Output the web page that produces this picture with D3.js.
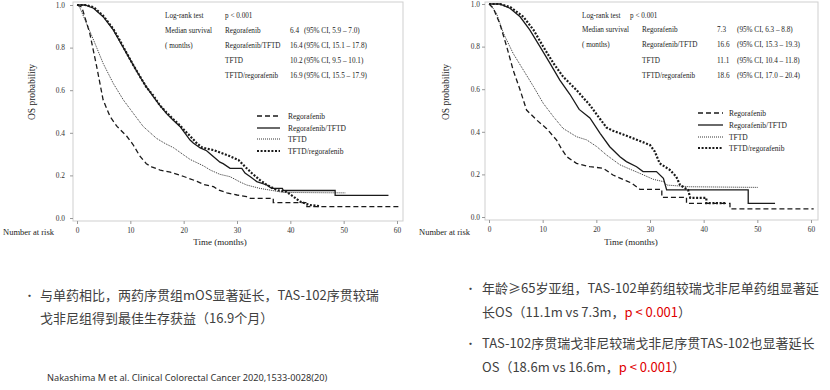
<!DOCTYPE html>
<html><head><meta charset="utf-8">
<script src="https://cdn.jsdelivr.net/npm/d3@7"></script>
<style>body{margin:0;background:#fff}svg{display:block}</style>
</head><body><svg id="c" width="830" height="390"></svg>
<script>
// ---------- data ----------
const seriesNames = ["Regorafenib", "Regorafenib/TFTD", "TFTD", "TFTD/regorafenib"];
const xTicks = [0, 10, 20, 30, 40, 50, 60];
const yTicks = [0, 0.2, 0.4, 0.6, 0.8, 1.0];

// left panel (all patients) – [months, OS probability]
const leftRegorafenib = [[0,1],[0.9,0.99],[2.4,0.867],[3.7,0.71],[4.9,0.554],[6.2,0.476],[7.5,0.43],[9.3,0.385],[10.5,0.345],[11.8,0.29],[13,0.255],[14,0.24],[15.6,0.225],[17.5,0.215],[19.9,0.196],[22.5,0.172],[23.7,0.158],[25.6,0.147],[26.5,0.132],[28.1,0.118],[30,0.108],[31.8,0.1],[32.5,0.092],[36.8,0.092],[36.8,0.072],[43.1,0.072],[43.1,0.053],[60.3,0.053]];
const leftRegTFTD = [[0,1],[1.5,1],[3.1,0.985],[4.9,0.945],[6.8,0.883],[8,0.83],[9.3,0.773],[10.5,0.72],[11.8,0.663],[13,0.615],[14.3,0.57],[15.5,0.53],[16.8,0.49],[18,0.46],[19.3,0.43],[20.2,0.4],[21.2,0.366],[21.8,0.352],[23.1,0.329],[24.3,0.316],[25.5,0.29],[26.8,0.262],[27.4,0.255],[28.7,0.233],[30.9,0.233],[31.5,0.211],[32.5,0.194],[33.7,0.171],[35.6,0.155],[36.5,0.139],[38.5,0.139],[38.7,0.129],[48.4,0.129],[48.4,0.106],[58.4,0.106]];
const leftTFTD = [[0,1],[0.5,0.99],[1.5,0.93],[3.1,0.836],[4.9,0.726],[6.8,0.632],[8.7,0.554],[10.6,0.49],[12.4,0.43],[14.9,0.374],[16.5,0.35],[18.1,0.33],[19.5,0.305],[21.2,0.275],[23.7,0.245],[25,0.225],[26.8,0.205],[28.7,0.194],[30.5,0.17],[31.8,0.155],[34.3,0.139],[36.2,0.131],[38.7,0.12],[50.3,0.118]];
const leftTFTDReg = [[0,1],[1.5,1],[3.1,0.99],[4.9,0.95],[6.8,0.888],[8,0.835],[9.3,0.775],[10.5,0.72],[11.8,0.665],[13,0.615],[14.3,0.575],[15.5,0.53],[16.8,0.495],[18,0.465],[19.3,0.435],[20.2,0.41],[21.2,0.385],[22.5,0.35],[23.5,0.33],[25.6,0.319],[28.1,0.296],[30.3,0.272],[31.5,0.241],[32.8,0.21],[34.3,0.178],[35.6,0.155],[37.5,0.131],[39.3,0.123],[40.6,0.1],[41.8,0.077],[43.7,0.061],[45.6,0.055]];
const leftMedians = ["6.4", "16.4", "10.2", "16.9"];
const leftCIs = ["(95% CI, 5.9 – 7.0)", "(95% CI, 15.1 – 17.8)", "(95% CI, 9.5 – 10.1)", "(95% CI, 15.5 – 17.9)"];

// right panel (age >= 65)
const rightRegorafenib = [[0,1],[0.8,0.98],[2,0.909],[3.3,0.8],[4.5,0.69],[5.8,0.596],[7,0.502],[8.9,0.455],[10.7,0.416],[12.6,0.361],[13.5,0.32],[14.5,0.283],[16.3,0.252],[18.8,0.236],[21.3,0.229],[23.1,0.197],[25.6,0.17],[26.5,0.16],[28.1,0.13],[32.2,0.13],[32.2,0.092],[36.8,0.092],[36.8,0.064],[44.9,0.064],[44.9,0.038],[60.5,0.038]];
const rightRegTFTD = [[0,1],[2,1],[3.9,0.98],[5.8,0.94],[7.6,0.878],[9.5,0.8],[11.4,0.72],[13.2,0.643],[15.1,0.575],[16.8,0.505],[18.8,0.465],[20.7,0.393],[22.5,0.33],[24.4,0.283],[25.6,0.26],[27.5,0.236],[28.7,0.213],[31.2,0.213],[32.5,0.182],[33.1,0.127],[48.3,0.127],[48.3,0.064],[53.3,0.064]];
const rightTFTD = [[0,1],[0.5,0.99],[1.4,0.956],[2.7,0.862],[4.5,0.768],[6.4,0.69],[8.3,0.612],[10.1,0.534],[12,0.471],[13.8,0.416],[16.3,0.377],[18.2,0.362],[20.1,0.33],[21.9,0.291],[24.4,0.245],[26.5,0.222],[28.1,0.205],[30.6,0.177],[32.5,0.166],[33.1,0.15],[37.4,0.142],[50.1,0.139]];
const rightTFTDReg = [[0,1],[2,1],[4,0.985],[6.4,0.94],[8.3,0.878],[10.1,0.8],[12,0.722],[13.8,0.659],[16.3,0.596],[18.8,0.525],[20.7,0.46],[21.9,0.42],[23.1,0.405],[24.4,0.393],[26.9,0.369],[30,0.338],[30.9,0.307],[31.8,0.252],[33.7,0.221],[34.9,0.189],[35.6,0.15],[37.1,0.127],[37.5,0.09],[40.5,0.09],[40.5,0.065],[44,0.065]];
const rightMedians = ["7.3", "16.6", "11.1", "18.6"];
const rightCIs = ["(95% CI, 6.3 – 8.8)", "(95% CI, 15.3 – 19.3)", "(95% CI, 10.4 – 11.8)", "(95% CI, 17.0 – 20.4)"];

const leftNote = ["与单药相比，两药序贯组mOS显著延长，TAS-102序贯较瑞", "戈非尼组得到最佳生存获益（16.9个月）"];
const citation = "Nakashima M et al. Clinical Colorectal Cancer 2020,1533-0028(20)";

// ---------- styles ----------
const lineStyles = [
  {dash: "5,3", w: 1.3, c: "#1a1a1a"},
  {dash: null, w: 1.3, c: "#1a1a1a"},
  {dash: "1,1", w: 1, c: "#333"},
  {dash: "2,1.6", w: 2.2, c: "#1a1a1a"}
];
const drawOrder = [2, 0, 1, 3];
const serif = "'Liberation Serif', 'Times New Roman', serif";
const cjk = "'Noto Sans CJK SC', 'Noto Sans', sans-serif";

const svg = d3.select("#c");

const panels = [
  {curves: [leftRegorafenib, leftRegTFTD, leftTFTD, leftTFTDReg], medians: leftMedians, cis: leftCIs,
   frame: {x0: 73, x1: 403, y0: 2, y1: 221}, xr: [77, 397], yr: [218, 5], ylabPad: 5,
   tbl: {c1: 165, p: 225, c2: 225, c3: 290, c4: 304, rows: [15, 30, 45, 60, 75]},
   leg: {x0: 257, x1: 280, tx: 288, rows: [116, 128, 139, 151]},
   ylab: {x: 32, y: 92}, nar: 3, time: 220},
  {curves: [rightRegorafenib, rightRegTFTD, rightTFTD, rightTFTDReg], medians: rightMedians, cis: rightCIs,
   frame: {x0: 485, x1: 818, y0: 2, y1: 220}, xr: [489, 811], yr: [217, 4], ylabPad: 2,
   tbl: {c1: 582, p: 630, c2: 642, c3: 717, c4: 737, rows: [15, 29, 44, 60, 75]},
   leg: {x0: 698, x1: 723, tx: 729, rows: [113, 125, 137, 148]},
   ylab: {x: 446, y: 92}, nar: 419, time: 631}
];

panels.forEach(P => {
  const g = svg.append("g");
  const x = d3.scaleLinear().domain([0, 60]).range(P.xr);
  const y = d3.scaleLinear().domain([0, 1]).range(P.yr);
  const f = P.frame;
  g.append("rect").attr("x", f.x0).attr("y", f.y0).attr("width", f.x1 - f.x0).attr("height", f.y1 - f.y0)
    .attr("fill", "none").attr("stroke", "#cfcfcf").attr("stroke-width", 1);

  const ya = g.append("g").attr("transform", `translate(${f.x0},0)`)
    .call(d3.axisLeft(y).tickValues(yTicks).tickFormat(d3.format(".1f")).tickSize(3).tickPadding(P.ylabPad));
  const xa = g.append("g").attr("transform", `translate(0,${f.y1})`)
    .call(d3.axisBottom(x).tickValues(xTicks).tickSize(3).tickPadding(4));
  [ya, xa].forEach(a => {
    a.select(".domain").remove();
    a.selectAll("line").attr("stroke", "#999");
    a.selectAll("text").attr("font-family", serif).attr("font-size", 7.4).attr("fill", "#333");
  });

  const line = d3.line().x(d => x(d[0])).y(d => y(d[1]));
  drawOrder.forEach(i => {
    const s = lineStyles[i];
    g.append("path").datum(P.curves[i]).attr("d", line).attr("fill", "none")
      .attr("stroke", s.c).attr("stroke-width", s.w).attr("stroke-dasharray", s.dash);
  });

  // table
  const T = P.tbl;
  const txt = (tx, ty, s, fs) => g.append("text").attr("x", tx).attr("y", ty + 3)
    .attr("font-family", serif).attr("font-size", fs || 7.2).attr("fill", "#222").text(s);
  txt(T.c1, T.rows[0], "Log-rank test");
  txt(T.p, T.rows[0], "p < 0.001");
  txt(T.c1, T.rows[1], "Median survival");
  txt(T.c1, T.rows[2], "( months)");
  seriesNames.forEach((n, i) => {
    txt(T.c2, T.rows[i + 1], n);
    txt(T.c3, T.rows[i + 1], P.medians[i]);
    txt(T.c4, T.rows[i + 1], P.cis[i]);
  });

  // legend
  const L = P.leg;
  seriesNames.forEach((n, i) => {
    const s = lineStyles[i];
    g.append("line").attr("x1", L.x0).attr("x2", L.x1).attr("y1", L.rows[i]).attr("y2", L.rows[i])
      .attr("stroke", s.c).attr("stroke-width", s.w).attr("stroke-dasharray", s.dash);
    txt(L.tx, L.rows[i], n, 7.5);
  });

  g.append("text").attr("transform", `translate(${P.ylab.x},${P.ylab.y}) rotate(-90)`)
    .attr("text-anchor", "middle").attr("dy", "0.35em").attr("font-family", serif)
    .attr("font-size", 9.5).attr("fill", "#222").text("OS probability");
  g.append("text").attr("x", P.nar).attr("y", 235).attr("font-family", serif)
    .attr("font-size", 8.5).attr("fill", "#222").text("Number at risk");
  g.append("text").attr("x", P.time).attr("y", 245).attr("text-anchor", "middle").attr("font-family", serif)
    .attr("font-size", 9).attr("fill", "#222").text("Time (months)");
});

// ---------- notes ----------
const noteG = svg.append("g").attr("font-family", cjk).attr("font-size", 13).attr("fill", "#404040");
const bullet = (bx, by) => noteG.append("text").attr("x", bx).attr("y", by).attr("font-size", 11).text("•");
bullet(24, 300);
noteG.append("text").attr("x", 40).attr("y", 300).text(leftNote[0]);
noteG.append("text").attr("x", 40).attr("y", 323).text(leftNote[1]);

bullet(465, 293);
noteG.append("text").attr("x", 482).attr("y", 293).text("年龄≥65岁亚组，TAS-102单药组较瑞戈非尼单药组显著延");
const r2 = noteG.append("text").attr("x", 482).attr("y", 317);
r2.append("tspan").text("长OS（11.1m vs 7.3m，");
r2.append("tspan").attr("fill", "#e00000").text("p < 0.001");
r2.append("tspan").text("）");
bullet(465, 348);
noteG.append("text").attr("x", 482).attr("y", 348).text("TAS-102序贯瑞戈非尼较瑞戈非尼序贯TAS-102也显著延长");
const r4 = noteG.append("text").attr("x", 482).attr("y", 372);
r4.append("tspan").text("OS（18.6m vs 16.6m，");
r4.append("tspan").attr("fill", "#e00000").text("p < 0.001");
r4.append("tspan").text("）");

svg.append("text").attr("x", 47).attr("y", 381).attr("font-family", "'Noto Sans', sans-serif")
  .attr("font-size", 9.2).attr("fill", "#333").text(citation);
</script>
</body></html>
